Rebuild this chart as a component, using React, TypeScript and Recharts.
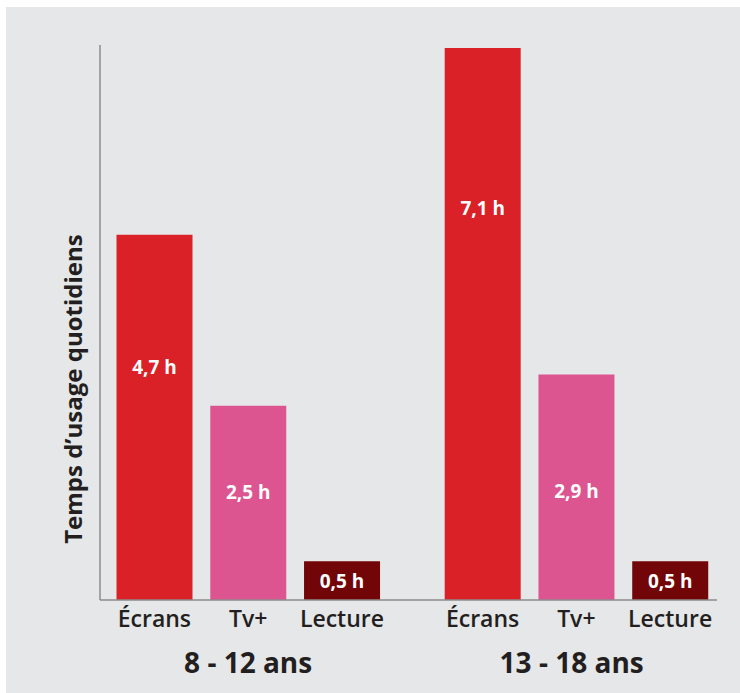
import { BarChart, Bar, XAxis, YAxis, Cell, LabelList } from 'recharts';

const categories = ['Écrans', 'Tv+', 'Lecture', 'Écrans', 'Tv+', 'Lecture'];
const positions = [0, 1, 2, 3.5, 4.5, 5.5];
const hours = [4.7, 2.5, 0.5, 7.1, 2.9, 0.5];
const groups = ['8 - 12 ans', '13 - 18 ans'];
const groupPositions = [1, 4.45];

const colors = ['#da2128', '#dc5591', '#720507'];
// distance of the value label from the bar top (null = centred in the bar)
const labelOffsets = [132, 86, null, 160, 116, null];

const data = categories.map((name, i) => ({ name, x: positions[i], hours: hours[i] }));

const FONT = '"Open Sans", sans-serif';
const TEXT = '#231f20';

const fmt = (v: number) => `${String(v).replace('.', ',')} h`;

function ValueLabel(props: any) {
  const { x, y, width, height, index, value } = props;
  const off = labelOffsets[index];
  const cy = off == null ? y + height / 2 : y + off;
  return (
    <text x={x + width / 2} y={cy} textAnchor="middle" dominantBaseline="central"
      fill="#fff" fontFamily={FONT} fontWeight={700} fontSize={19}>
      {fmt(value)}
    </text>
  );
}

function AxisTitle(props: any) {
  const { viewBox } = props;
  const x = viewBox.x + viewBox.width - 27;
  const y = viewBox.y + viewBox.height * 0.62;
  return (
    <text x={x} y={y} transform={`rotate(-90 ${x} ${y})`} textAnchor="middle" dominantBaseline="central"
      fill={TEXT} fontFamily={FONT} fontWeight={700} fontSize={24}>
      Temps d’usage quotidiens
    </text>
  );
}

export default function App() {
  return (
    <div style={{ position: 'absolute', left: 6, top: 7, width: 734, height: 686, background: '#e6e7e8' }}>
      <BarChart width={734} height={686} data={data} margin={{ top: 38, right: 23, left: 0, bottom: 0 }}>
        <XAxis
          xAxisId="cat"
          dataKey="x"
          type="number"
          domain={[-0.58, 6.0]}
          ticks={positions}
          tickFormatter={(v: number) => categories[positions.indexOf(v)] ?? ''}
          allowDataOverflow
          height={40}
          tickLine={false}
          tickMargin={5}
          axisLine={{ stroke: '#8c8c8c', strokeWidth: 1.5 }}
          tick={{ fill: TEXT, fontFamily: FONT, fontWeight: 600, fontSize: 23 }}
        />
        <XAxis
          xAxisId="group"
          dataKey="x"
          type="number"
          domain={[-0.58, 6.0]}
          ticks={groupPositions}
          tickFormatter={(v: number) => groups[groupPositions.indexOf(v)] ?? ''}
          allowDataOverflow
          height={53}
          tickLine={false}
          axisLine={false}
          tickMargin={7}
          tick={{ fill: TEXT, fontFamily: FONT, fontWeight: 700, fontSize: 28 }}
        />
        <YAxis
          type="number"
          domain={[0, 7.14]}
          allowDataOverflow
          width={94}
          tick={false}
          tickLine={false}
          axisLine={{ stroke: '#8c8c8c', strokeWidth: 1.5 }}
          label={{ content: AxisTitle }}
        />
        <Bar dataKey="hours" xAxisId="cat" barSize={76} isAnimationActive={false}>
          {data.map((d, i) => (
            <Cell key={i} fill={colors[i % 3]} />
          ))}
          <LabelList dataKey="hours" content={ValueLabel} />
        </Bar>
      </BarChart>
    </div>
  );
}
